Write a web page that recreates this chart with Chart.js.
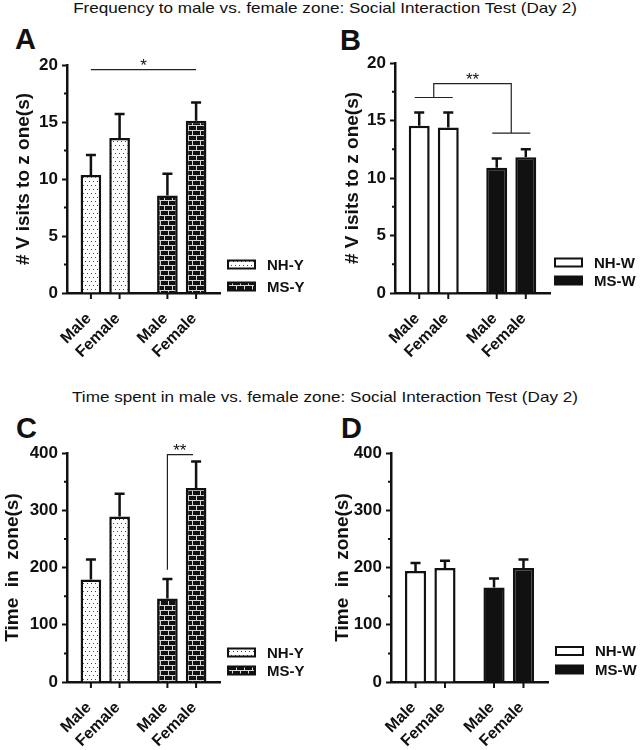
<!DOCTYPE html>
<html>
<head>
<meta charset="utf-8">
<script src="https://cdn.jsdelivr.net/npm/chart.js@4.4.1/dist/chart.umd.min.js"></script>
<style>
  body{margin:0;background:#fff;font-family:"Liberation Sans",Arial,sans-serif;color:#111;}
  #page{position:relative;width:640px;height:750px;overflow:hidden;}
  .ttl{position:absolute;left:0;width:640px;text-align:center;font-size:14.5px;line-height:18px;padding-left:10px;box-sizing:border-box;transform:scaleX(1.18);transform-origin:325px 0;}
  .lt{position:absolute;font-weight:bold;font-size:29px;line-height:29px;}
  canvas{position:absolute;}
</style>
</head>
<body>
<div id="page">
  <div class="ttl" style="top:-1px">Frequency to male vs. female zone: Social Interaction Test (Day 2)</div>
  <div class="ttl" style="top:388px">Time spent in male vs. female zone: Social Interaction Test (Day 2)</div>
  <div class="lt" style="left:15px;top:25px">A</div>
  <div class="lt" style="left:340px;top:26px">B</div>
  <div class="lt" style="left:16px;top:414px">C</div>
  <div class="lt" style="left:341px;top:414px">D</div>
  <canvas id="cA" width="320" height="340" style="left:0;top:20px"></canvas>
  <canvas id="cB" width="320" height="340" style="left:320px;top:20px"></canvas>
  <canvas id="cC" width="320" height="340" style="left:0;top:410px"></canvas>
  <canvas id="cD" width="320" height="340" style="left:320px;top:410px"></canvas>
</div>
<script>
/* ---------- data (group order: NH, MS) ---------- */
const SEXES = ['Male', 'Female'];
const GROUPS_YOUNG = ['NH-Y', 'MS-Y'];
const GROUPS_WEAN = ['NH-W', 'MS-W'];
const VISIT_TICKS = [0, 5, 10, 15, 20];
const TIME_TICKS = [0, 100, 200, 300, 400];

// A: visits, young
const visitsYoungMale = [10.35, 8.55];
const visitsYoungMaleSem = [1.75, 1.9];
const visitsYoungFemale = [13.6, 15.1];
const visitsYoungFemaleSem = [2.1, 1.6];
// B: visits, weaned
const visitsWeanMale = [14.55, 10.9];
const visitsWeanMaleSem = [1.15, 0.8];
const visitsWeanFemale = [14.4, 11.8];
const visitsWeanFemaleSem = [1.3, 0.7];
// C: time, young
const timeYoungMale = [179, 146];
const timeYoungMaleSem = [35, 34];
const timeYoungFemale = [289, 339];
const timeYoungFemaleSem = [40, 46];
// D: time, weaned
const timeWeanMale = [194, 165];
const timeWeanMaleSem = [14, 16];
const timeWeanFemale = [199, 199];
const timeWeanFemaleSem = [13, 15];

const INK = '#111';
const FONT = '"Liberation Sans", Arial, sans-serif';
Chart.defaults.font.family = FONT;
Chart.defaults.color = INK;

/* ---------- fills ---------- */
function dotFill(){
  const c = document.createElement('canvas'); c.width = 8; c.height = 8;
  const g = c.getContext('2d');
  g.fillStyle = '#fff'; g.fillRect(0,0,8,8);
  g.fillStyle = '#444';
  [[1,1],[5,1],[3,5],[7,5]].forEach(p=>g.fillRect(p[0],p[1],1,1));
  return g.createPattern(c,'repeat');
}
function brickFill(){
  const c = document.createElement('canvas'); c.width = 8; c.height = 10;
  const g = c.getContext('2d');
  g.fillStyle = INK; g.fillRect(0,0,8,10);
  g.fillStyle = '#d8d8d8';
  g.fillRect(0,0,8,1); g.fillRect(0,5,8,1);
  g.fillRect(0,0,1,5); g.fillRect(4,5,1,5);
  return g.createPattern(c,'repeat');
}
const FILL = { 'NH-Y': dotFill(), 'MS-Y': brickFill(), 'NH-W': '#fff', 'MS-W': INK };

/* ---------- decorations: error bars, x labels, minor ticks, legend, stats ---------- */
const decor = {
  id:'decor',
  afterDatasetsDraw(chart, args, opts){
    const {ctx, chartArea:{left, right, bottom}, scales:{y}} = chart;
    ctx.save();
    ctx.strokeStyle = INK; ctx.fillStyle = INK;

    chart.data.datasets.forEach((ds, di)=>{
      chart.getDatasetMeta(di).data.forEach((bar, gi)=>{
        const top = y.getPixelForValue(ds.data[gi] + ds.errors[gi]);
        ctx.lineWidth = 2.5;
        ctx.beginPath();
        ctx.moveTo(bar.x, bar.y); ctx.lineTo(bar.x, top);
        ctx.moveTo(bar.x-5, top); ctx.lineTo(bar.x+5, top);
        ctx.stroke();
        // category tick + rotated label
        ctx.lineWidth = 2;
        ctx.beginPath(); ctx.moveTo(bar.x, bottom); ctx.lineTo(bar.x, bottom+6); ctx.stroke();
        ctx.save();
        ctx.translate(bar.x-2, bottom+23);
        ctx.rotate(-Math.PI/4);
        ctx.font = 'bold 16px ' + FONT;
        ctx.textAlign = 'right'; ctx.textBaseline = 'middle';
        ctx.fillText(ds.label, 0, 0);
        ctx.restore();
      });
    });

    // minor y ticks
    const t = opts.ticks, half = (t[1]-t[0])/2;
    ctx.lineWidth = 2;
    ctx.beginPath();
    for(let v = t[0]+half; v < t[t.length-1]; v += 2*half){
      const py = y.getPixelForValue(v);
      ctx.moveTo(left-3, py); ctx.lineTo(left, py);
    }
    ctx.stroke();

    // legend
    const lx = right + opts.legendX;
    chart.data.labels.forEach((g, i)=>{
      const cy = bottom + opts.legendY[i];
      ctx.fillStyle = FILL[g];
      ctx.fillRect(lx, cy-4, 27, 8);
      ctx.lineWidth = 2; ctx.strokeRect(lx, cy-4, 27, 8);
      ctx.fillStyle = INK;
      ctx.font = 'bold 15px ' + FONT;
      ctx.textAlign = 'left'; ctx.textBaseline = 'middle';
      ctx.fillText(g, lx+39, cy+1);
    });

    // significance marks
    if(opts.sig) drawSig(chart, opts.sig);
    ctx.restore();
  }
};

function barAt(chart, di, gi){ return chart.getDatasetMeta(di).data[gi]; }

function drawSig(chart, s){
  const {ctx, scales:{y}} = chart;
  ctx.lineWidth = 1.2; ctx.strokeStyle = '#222'; ctx.fillStyle = INK;
  ctx.font = '17px ' + FONT;
  ctx.textAlign = 'center'; ctx.textBaseline = 'alphabetic';
  ctx.beginPath();
  let sx, sy;
  if(s.type === 'line'){
    const a = barAt(chart, ...s.from), b = barAt(chart, ...s.to);
    sy = y.getPixelForValue(s.top);
    ctx.moveTo(a.x, sy); ctx.lineTo(b.x, sy);
    sx = (a.x+b.x)/2;
  } else if(s.type === 'bracket'){
    const mid = g => (barAt(chart,0,g).x + barAt(chart,1,g).x)/2;
    const m0 = mid(0), m1 = mid(1);
    const y0 = y.getPixelForValue(s.levels[0]), y1 = y.getPixelForValue(s.levels[1]);
    sy = y.getPixelForValue(s.top);
    ctx.moveTo(m0-19, y0); ctx.lineTo(m0+19, y0);
    ctx.moveTo(m1-19, y1); ctx.lineTo(m1+19, y1);
    ctx.moveTo(m0, y0); ctx.lineTo(m0, sy); ctx.lineTo(m1, sy); ctx.lineTo(m1, y1);
    sx = (m0+m1)/2;
  } else {
    const a = barAt(chart, ...s.from), b = barAt(chart, ...s.to);
    sy = y.getPixelForValue(s.top);
    ctx.moveTo(a.x, y.getPixelForValue(s.base)); ctx.lineTo(a.x, sy); ctx.lineTo(b.x-3, sy);
    sx = (a.x+b.x)/2 - 2;
  }
  ctx.stroke();
  ctx.fillText(s.label, sx, sy + 1);
}

/* ---------- panel factory ---------- */
function panel(id, groups, male, maleSem, female, femaleSem, ticks, yTitle, lay, sig){
  const fills = groups.map(g=>FILL[g]);
  return new Chart(document.getElementById(id), {
    type:'bar',
    data:{
      labels: groups,
      datasets:[
        { label: SEXES[0], data: male, errors: maleSem, backgroundColor: fills, borderColor: INK, borderWidth: 2.5, borderSkipped:'bottom' },
        { label: SEXES[1], data: female, errors: femaleSem, backgroundColor: fills, borderColor: INK, borderWidth: 2.5, borderSkipped:'bottom' }
      ]
    },
    options:{
      responsive:false, animation:false, devicePixelRatio:1,
      categoryPercentage: 0.75, barPercentage: 0.72,
      layout:{ padding:{ left: lay.padL, top: lay.padT, right: lay.padR, bottom: 0 } },
      plugins:{
        legend:{ display:false }, tooltip:{ enabled:false },
        decor:{ ticks, legendX: lay.legX, legendY: lay.legY, sig }
      },
      scales:{
        x:{
          grid:{ display:false }, ticks:{ display:false },
          border:{ display:true, color: INK, width: 2.5 },
          afterFit: s => { s.height = lay.xH; }
        },
        y:{
          min: ticks[0], max: ticks[ticks.length-1],
          afterBuildTicks: s => { s.ticks = ticks.map(v=>({value:v})); },
          ticks:{ font:{ size:17, weight:'bold' }, color: INK, padding: 4 },
          grid:{ drawOnChartArea:false, tickLength:5, tickWidth:2, color: INK },
          border:{ display:true, color: INK, width: 2.5 },
          title:{ display:true, text: yTitle, font:{ size:19, weight:'bold' }, color: INK, padding:0 },
          afterFit: s => { s.width = lay.yW; }
        }
      }
    },
    plugins:[decor]
  });
}

panel('cA', GROUPS_YOUNG, visitsYoungMale, visitsYoungMaleSem, visitsYoungFemale, visitsYoungFemaleSem,
  VISIT_TICKS, '# V isits to z one(s)',
  { padL:12, yW:55, padT:45, padR:100, xH:67, legX:8, legY:[-28.5, -6.5] },
  { type:'line', from:[0,0], to:[1,1], top:19.6, label:'*' });

panel('cB', GROUPS_WEAN, visitsWeanMale, visitsWeanMaleSem, visitsWeanFemale, visitsWeanFemaleSem,
  VISIT_TICKS, '# V isits to z one(s)',
  { padL:21, yW:54, padT:43, padR:90, xH:67, legX:5, legY:[-30.5, -12.5] },
  { type:'bracket', levels:[17.0, 13.9], top:18.2, label:'**' });

panel('cC', GROUPS_YOUNG, timeYoungMale, timeYoungMaleSem, timeYoungFemale, timeYoungFemaleSem,
  TIME_TICKS, 'Time  in  zone(s)',
  { padL:1, yW:66, padT:43, padR:100, xH:68, legX:8, legY:[-29.5, -11.5] },
  { type:'hook', from:[0,1], to:[1,1], base:196, top:397, label:'**' });

panel('cD', GROUPS_WEAN, timeWeanMale, timeWeanMaleSem, timeWeanFemale, timeWeanFemaleSem,
  TIME_TICKS, 'Time  in  zone(s)',
  { padL:11, yW:60, padT:43, padR:92, xH:68, legX:8, legY:[-31, -12.5] },
  null);
</script>
</body>
</html>
